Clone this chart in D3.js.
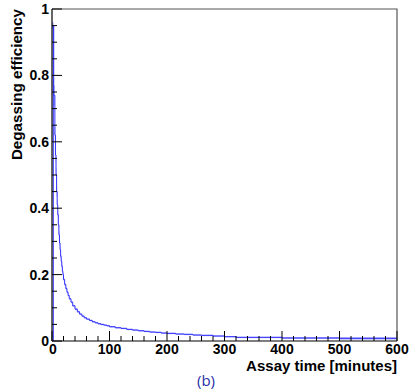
<!DOCTYPE html>
<html>
<head>
<meta charset="utf-8">
<script src="https://cdn.jsdelivr.net/npm/d3@7"></script>
<style>
  body { margin: 0; background: #fff; }
  svg { display: block; }
</style>
</head>
<body>
<svg id="chart" width="410" height="391"></svg>
<script>
// bin edges in minutes
var binEdges = [0, 3, 5, 6, 7, 8, 9, 10, 11, 12, 13, 14, 15, 16, 17, 18, 19, 20, 22, 24, 26, 28, 30,
	33, 36, 40, 44, 48, 52, 56, 60, 65, 70, 75, 80, 85, 90, 95, 100, 110, 120, 130, 140, 150,
	160, 170, 180, 190, 200, 215, 230, 245, 260, 280, 300, 320, 400, 500, 600];
// degassing efficiency per bin
var efficiency = [0.95, 0.74, 0.62, 0.56, 0.50, 0.45, 0.41,
	0.38, 0.35, 0.32, 0.295, 0.275, 0.255, 0.24, 0.225, 0.21, 0.20,
	0.185, 0.17, 0.158, 0.147, 0.137,
	0.127, 0.117, 0.106, 0.096, 0.088, 0.081, 0.075, 0.070,
	0.066, 0.062, 0.058, 0.055, 0.052, 0.050, 0.048, 0.046,
	0.043, 0.040, 0.038, 0.035, 0.033, 0.031, 0.029, 0.027, 0.026, 0.024,
	0.023, 0.021, 0.020, 0.018, 0.017, 0.015,
	0.013, 0.011, 0.009, 0.008];
// uncertainty per bin
var errors = [0.01, 0.03, 0.025, 0.02, 0.02, 0.015, 0.015,
	0.012, 0.01, 0.01, 0.008, 0.008, 0.007, 0.006, 0.006, 0.005, 0.005,
	0.004, 0.004, 0.004, 0.003, 0.003,
	0.003, 0.003, 0.003, 0.003, 0.003, 0.002, 0.002, 0.002,
	0.002, 0.002, 0.002, 0.002, 0.002, 0.002, 0.002, 0.002,
	0.002, 0.002, 0.002, 0.002, 0.002, 0.002, 0.002, 0.002, 0.002, 0.002,
	0.002, 0.002, 0.002, 0.002, 0.002, 0.002,
	0.002, 0.002, 0.003, 0.004];

var xTicks = [0, 100, 200, 300, 400, 500, 600];
var yTicks = [0, 0.2, 0.4, 0.6, 0.8, 1];
var xLabel = "Assay time [minutes]";
var yLabel = "Degassing efficiency";
var caption = "(b)";

var svg = d3.select("#chart");

var LEFT = 52, RIGHT = 397, TOP = 9, BOTTOM = 341;
var FONT = "'Liberation Sans', Arial, Helvetica, sans-serif";

var x = d3.scaleLinear().domain([0, 600]).range([LEFT, RIGHT]);
var y = d3.scaleLinear().domain([0, 1]).range([BOTTOM, TOP]);

var bins = efficiency.map((v, i) => ({ x0: binEdges[i], x1: binEdges[i + 1], v: v, e: errors[i] }));

// error band
svg.append("g").selectAll("rect")
	.data(bins)
	.enter()
	.append("rect")
	.attr("x", d => x(d.x0))
	.attr("width", d => Math.max(0.6, x(d.x1) - x(d.x0)))
	.attr("y", d => y(d.v + d.e))
	.attr("height", d => Math.max(1.5, y(d.v - d.e) - y(d.v + d.e)))
	.style("fill", "#a8a8ff")
	.style("opacity", 0.8);

// histogram outline
var pts = [[x(0) + 1.3, y(0)]];
bins.forEach(d => {
	pts.push([Math.max(x(d.x0), x(0) + 1.3), y(d.v)]);
	pts.push([x(d.x1), y(d.v)]);
});
svg.append("path")
	.attr("d", d3.line()(pts))
	.style("fill", "none")
	.style("stroke", "#3030ff")
	.style("stroke-width", 1);

// frame top / right
svg.append("path")
	.attr("d", `M${LEFT},${TOP}H${RIGHT}V${BOTTOM}`)
	.style("fill", "none")
	.style("stroke", "#555")
	.style("stroke-width", 1.2);

// x axis
var xAxis = svg.append("g");
xAxis.append("line")
	.attr("x1", LEFT).attr("x2", RIGHT).attr("y1", BOTTOM).attr("y2", BOTTOM)
	.style("stroke", "#000").style("stroke-width", 1.2);
xAxis.selectAll(".xt")
	.data(d3.range(0, 601, 20))
	.enter()
	.append("line")
	.attr("x1", d => x(d)).attr("x2", d => x(d))
	.attr("y1", BOTTOM).attr("y2", d => BOTTOM - (d % 100 === 0 ? 10 : 5))
	.style("stroke", "#000").style("stroke-width", 1);
xAxis.selectAll(".xl")
	.data(xTicks)
	.enter()
	.append("text")
	.text(d => d)
	.attr("x", d => x(d) + (d === 0 ? 1 : 0)).attr("y", 354)
	.style("font-family", FONT)
	.style("font-size", "14px")
	.style("font-weight", 700)
	.style("text-anchor", "middle");

// y axis
var yAxis = svg.append("g");
yAxis.append("line")
	.attr("x1", LEFT).attr("x2", LEFT).attr("y1", TOP).attr("y2", BOTTOM)
	.style("stroke", "#000").style("stroke-width", 1.2);
yAxis.selectAll(".yt")
	.data(d3.range(0, 21).map(d => d * 0.05))
	.enter()
	.append("line")
	.attr("y1", d => y(d)).attr("y2", d => y(d))
	.attr("x1", LEFT).attr("x2", (d, i) => LEFT + (i % 4 === 0 ? 10 : 5))
	.style("stroke", "#000").style("stroke-width", 1);
yAxis.selectAll(".yl")
	.data(yTicks)
	.enter()
	.append("text")
	.text(d => d)
	.attr("x", 49).attr("y", d => y(d) + 5)
	.style("font-family", FONT)
	.style("font-size", "14px")
	.style("font-weight", 700)
	.style("text-anchor", "end");

// axis titles
svg.append("text")
	.text(xLabel)
	.attr("x", RIGHT).attr("y", 371)
	.style("font-family", FONT)
	.style("font-size", "15px")
	.style("font-weight", 700)
	.style("text-anchor", "end");

svg.append("text")
	.text(yLabel)
	.attr("transform", `translate(22,${TOP}) rotate(-90)`)
	.style("font-family", FONT)
	.style("font-size", "15.2px")
	.style("font-weight", 700)
	.style("text-anchor", "end");

svg.append("text")
	.text(caption)
	.attr("x", 206).attr("y", 386)
	.style("font-family", "'Open Sans', sans-serif")
	.style("font-size", "15px")
	.style("fill", "#1f2fa8")
	.style("text-anchor", "middle");
</script>
</body>
</html>
